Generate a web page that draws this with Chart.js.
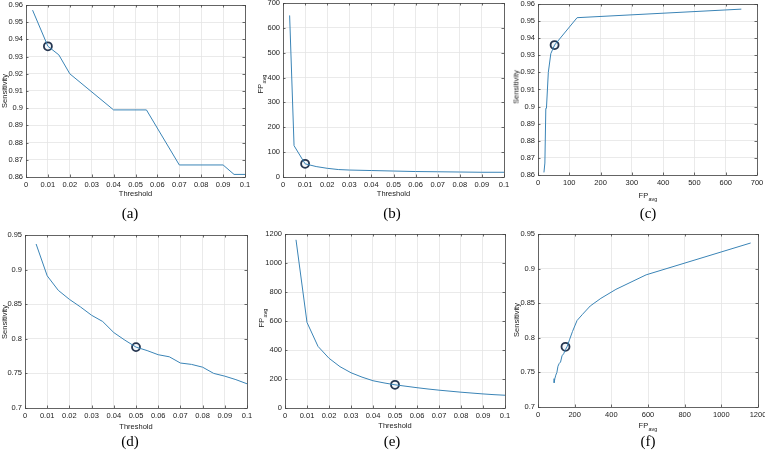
<!DOCTYPE html>
<html>
<head>
<meta charset="utf-8">
<script src="https://cdn.jsdelivr.net/npm/chart.js@4.4.1/dist/chart.umd.min.js"></script>
<style>
body { margin: 0; background: #fff; width: 765px; height: 457px; position: relative; overflow: hidden; font-family: 'Liberation Sans', Arial, sans-serif; }
canvas { position: absolute; }
.lbl { position: absolute; transform: translate(-50%, -50%); font-size: 7.5px; color: #222; white-space: nowrap; }
.rot { transform: translate(-50%, -50%) rotate(-90deg); }
.sb { font-size: 5.5px; position: relative; top: 2.5px; margin-left: 0.4px; }
.cap { position: absolute; transform: translate(-50%, -50%); font-family: 'Liberation Serif', 'Times New Roman', serif; font-size: 15px; color: #000; white-space: nowrap; }
</style>
</head>
<body>
<script>
// tick labels
const thresholdTicks = [0, 0.01, 0.02, 0.03, 0.04, 0.05, 0.06, 0.07, 0.08, 0.09, 0.1]
const sensTicksTop = [0.86, 0.87, 0.88, 0.89, 0.9, 0.91, 0.92, 0.93, 0.94, 0.95, 0.96]
const sensTicksBottom = [0.7, 0.75, 0.8, 0.85, 0.9, 0.95]
const fpTicksTop = [0, 100, 200, 300, 400, 500, 600, 700]
const fpTicksBottom = [0, 200, 400, 600, 800, 1000, 1200]

// (a) sensitivity vs threshold
const aThreshold = [0.003, 0.01, 0.015, 0.02, 0.04, 0.055, 0.07, 0.09, 0.095, 0.1]
const aSensitivity = [0.957, 0.936, 0.931, 0.920, 0.899, 0.899, 0.867, 0.867, 0.8615, 0.8615]
// (b) FP avg vs threshold
const bThreshold = [0.003, 0.005, 0.01, 0.015, 0.02, 0.025, 0.03, 0.04, 0.05, 0.06, 0.07, 0.08, 0.09, 0.1]
const bFpAvg = [650, 126, 53, 42, 35, 30, 28, 26, 24, 22, 21, 20, 19, 19]
// (c) sensitivity vs FP avg
const cFpAvg = [650, 125, 53, 41, 33, 27, 25, 22, 20, 19]
const cSensitivity = [0.957, 0.952, 0.936, 0.931, 0.920, 0.899, 0.899, 0.867, 0.867, 0.8615]
// (d), (e), (f) second data set
const dThreshold = [0.005, 0.01, 0.015, 0.02, 0.025, 0.03, 0.035, 0.04, 0.045, 0.05,
  0.055, 0.06, 0.065, 0.07, 0.075, 0.08, 0.085, 0.09, 0.095, 0.1]
const dSensitivity = [0.937, 0.891, 0.870, 0.857, 0.846, 0.834, 0.825, 0.809, 0.798, 0.788,
  0.783, 0.777, 0.774, 0.765, 0.763, 0.759, 0.750, 0.746, 0.741, 0.735]
const eFpAvg = [1160, 590, 425, 343, 285, 243, 213, 188, 173, 160,
  150, 140, 131, 123, 116, 109, 103, 97, 92, 88]

// chosen operating points (circled)
const markA = { x: 0.01, y: 0.936 }
const markB = { x: 0.01, y: 53 }
const markC = { x: 53, y: 0.936 }
const markD = { x: 0.05, y: 0.788 }
const markE = { x: 0.05, y: 160 }
const markF = { x: 150, y: 0.787 }

const LINE = '#3a84b6'
const NAVY = '#25354f'
const PAD_L = 40, PAD_T = 8, PAD_R = 14, PAD_B = 26
const TICK_FONT = { family: "'Liberation Sans', Arial, sans-serif", size: 7.5 }

// MATLAB style box with inward ticks
const framePlugin = {
  id: 'frame',
  beforeDatasetsDraw(chart) {
    const { ctx, chartArea: a, scales } = chart
    ctx.save()
    ctx.strokeStyle = '#444'
    ctx.lineWidth = 0.8
    ctx.strokeRect(a.left + 0.5, a.top + 0.5, a.right - a.left, a.bottom - a.top)
    ctx.beginPath()
    scales.x.ticks.forEach(t => {
      const px = Math.round(scales.x.getPixelForValue(t.value)) + 0.5
      ctx.moveTo(px, a.bottom); ctx.lineTo(px, a.bottom - 2.5)
      ctx.moveTo(px, a.top); ctx.lineTo(px, a.top + 2.5)
    })
    scales.y.ticks.forEach(t => {
      const py = Math.round(scales.y.getPixelForValue(t.value)) + 0.5
      ctx.moveTo(a.left, py); ctx.lineTo(a.left + 2.5, py)
      ctx.moveTo(a.right, py); ctx.lineTo(a.right - 2.5, py)
    })
    ctx.stroke()
    ctx.restore()
  }
}

function axis(ticks, pos) {
  return {
    type: 'linear',
    position: pos,
    min: ticks[0],
    max: ticks[ticks.length - 1],
    afterBuildTicks: s => { s.ticks = ticks.map(v => ({ value: v })) },
    afterFit: s => {
      if (pos === 'left') s.width = PAD_L
      else s.height = PAD_B
      s.paddingLeft = s.paddingRight = s.paddingTop = s.paddingBottom = 0
    },
    grid: { color: '#e4e4e4', lineWidth: 0.8, drawTicks: false },
    border: { display: false },
    ticks: {
      font: TICK_FONT, color: '#222', padding: 3,
      maxRotation: 0, autoSkip: false, callback: v => String(v)
    }
  }
}

function panel(rect, xs, ys, mark, xTicks, yTicks) {
  const c = document.createElement('canvas')
  const w = rect.r - rect.l + PAD_L + PAD_R
  const h = rect.b - rect.t + PAD_T + PAD_B
  c.width = w
  c.height = h
  c.style.left = (rect.l - PAD_L) + 'px'
  c.style.top = (rect.t - PAD_T) + 'px'
  c.style.width = w + 'px'
  c.style.height = h + 'px'
  document.body.appendChild(c)
  new Chart(c, {
    type: 'scatter',
    data: {
      datasets: [
        { data: xs.map((x, i) => ({ x, y: ys[i] })), showLine: true, borderColor: LINE, borderWidth: 1, pointRadius: 0, tension: 0 },
        { data: [mark], pointRadius: 4, pointBorderWidth: 1.8, pointBorderColor: NAVY, pointBackgroundColor: '#f4f6f9' },
        { data: [mark], pointRadius: 1.4, pointBorderWidth: 0, pointBackgroundColor: NAVY }
      ]
    },
    options: {
      responsive: false,
      animation: false,
      events: [],
      devicePixelRatio: 1,
      layout: { padding: { left: 0, top: PAD_T, right: PAD_R, bottom: 0 }, autoPadding: false },
      plugins: { legend: { display: false }, tooltip: { enabled: false } },
      scales: { x: axis(xTicks, 'bottom'), y: axis(yTicks, 'left') }
    },
    plugins: [framePlugin]
  })
}

function label(html, x, y, cls) {
  const d = document.createElement('div')
  d.className = cls
  d.innerHTML = html
  d.style.left = x + 'px'
  d.style.top = y + 'px'
  document.body.appendChild(d)
}

const FP = 'FP<span class="sb">avg</span>'

panel({ l: 26, t: 5, r: 245, b: 177 }, aThreshold, aSensitivity, markA, thresholdTicks, sensTicksTop)
panel({ l: 283, t: 3, r: 504, b: 177 }, bThreshold, bFpAvg, markB, thresholdTicks, fpTicksTop)
panel({ l: 538, t: 4, r: 757, b: 175 }, cFpAvg, cSensitivity, markC, fpTicksTop, sensTicksTop)
panel({ l: 25, t: 235, r: 247, b: 408 }, dThreshold, dSensitivity, markD, thresholdTicks, sensTicksBottom)
panel({ l: 285, t: 234, r: 505, b: 408 }, dThreshold, eFpAvg, markE, thresholdTicks, fpTicksBottom)
panel({ l: 538, t: 234, r: 758, b: 407 }, eFpAvg, dSensitivity, markF, fpTicksBottom, sensTicksBottom)

label('Threshold', 135.5, 193, 'lbl')
label('Sensitivity', 3.5, 91, 'lbl rot')
label('(a)', 130, 213, 'cap')

label('Threshold', 393.5, 193, 'lbl')
label(FP, 260, 84, 'lbl rot')
label('(b)', 392, 213, 'cap')

label(FP, 648, 195, 'lbl')
label('Sensitivity', 516, 87, 'lbl rot')
label('(c)', 648, 213, 'cap')

label('Threshold', 136, 426, 'lbl')
label('Sensitivity', 3.5, 322, 'lbl rot')
label('(d)', 130, 441, 'cap')

label('Threshold', 395, 425, 'lbl')
label(FP, 260.5, 318, 'lbl rot')
label('(e)', 392, 441, 'cap')

label(FP, 648, 425, 'lbl')
label('Sensitivity', 516, 320, 'lbl rot')
label('(f)', 648, 441, 'cap')
</script>
</body>
</html>
